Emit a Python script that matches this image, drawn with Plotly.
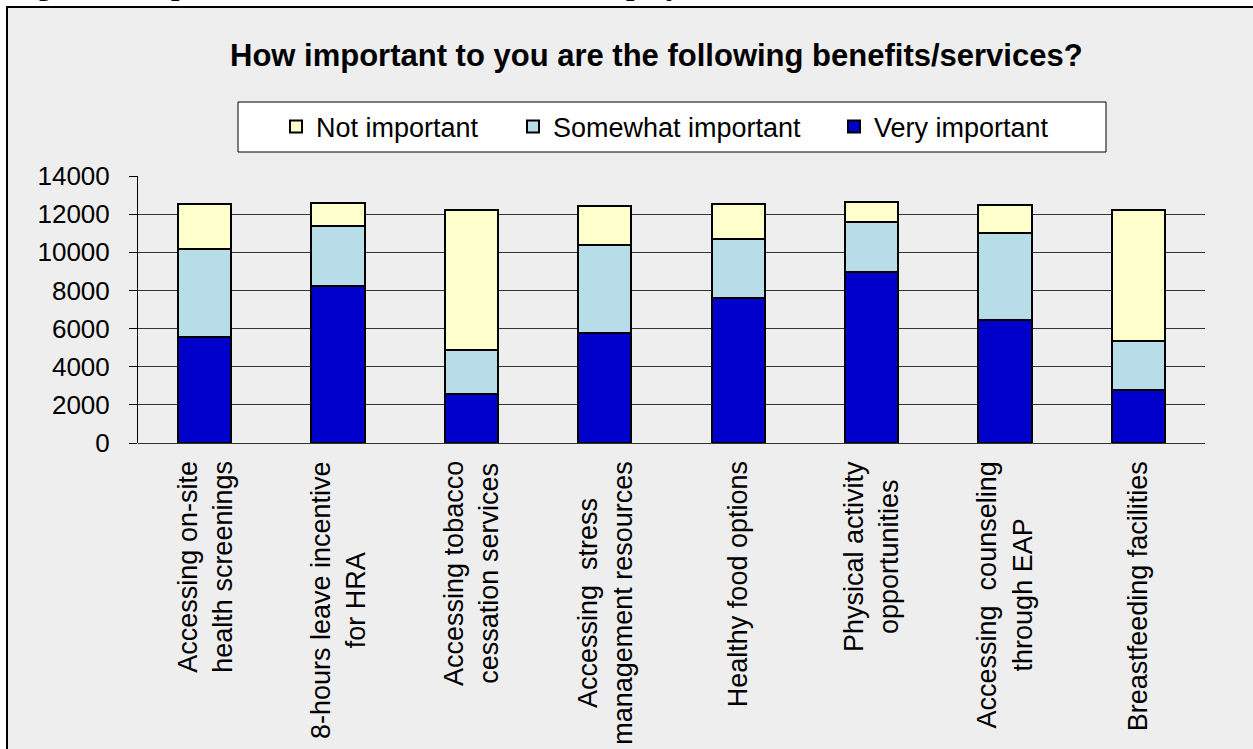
import plotly.graph_objects as go

categories = [
    "Accessing on-site<br>health screenings",
    "8-hours leave incentive<br>for HRA",
    "Accessing tobacco<br>cessation services",
    "Accessing  stress<br>management resources",
    "Healthy food options",
    "Physical activity<br>opportunities",
    "Accessing  counseling<br>through EAP",
    "Breastfeeding facilities",
]
very_important = [5550, 8250, 2550, 5750, 7600, 8950, 6450, 2800]
somewhat_important = [4600, 3150, 2350, 4650, 3100, 2650, 4550, 2550]
not_important = [2400, 1200, 7300, 2050, 1850, 1050, 1500, 6850]
y_ticks = [0, 2000, 4000, 6000, 8000, 10000, 12000, 14000]

W, H = 1253, 749
L, R, T, B = 138, 1205, 176, 443
pw, ph = R - L, B - T
def px(x):
    return (x - L) / pw
def py(y):
    return (B - y) / ph

FONT = "Liberation Sans, Arial, sans-serif"
fig = go.Figure()
series = [
    ("Very important", very_important, "#0000CC", "legend3"),
    ("Somewhat important", somewhat_important, "#B7DEE8", "legend2"),
    ("Not important", not_important, "#FFFFCC", "legend"),
]
for name, vals, col, lg in series:
    fig.add_trace(go.Bar(
        x=categories, y=vals, name=name, legend=lg,
        marker=dict(color=col, line=dict(color="black", width=2)),
    ))

shapes = [
    dict(type="rect", xref="paper", yref="paper", layer="below",
         x0=px(7), x1=px(1270), y0=py(770), y1=py(7),
         fillcolor="#EEEEEE", line=dict(color="black", width=2)),
    dict(type="rect", xref="paper", yref="paper", layer="below",
         x0=px(238), x1=px(1106), y0=py(152), y1=py(102),
         fillcolor="white", line=dict(color="black", width=1)),
]

annotations = [
    dict(text="<b>Figure 4: Importance of Benefits/Services to Employees</b>",
         xref="paper", yref="paper", x=px(8), y=py(3), xanchor="left", yanchor="bottom",
         showarrow=False, font=dict(family="Liberation Serif, Times New Roman, serif", size=30, color="black")),
    dict(text="<b>How important to you are the following benefits/services?</b>",
         xref="paper", yref="paper", x=px(656), y=py(55), xanchor="center", yanchor="middle",
         showarrow=False, font=dict(family=FONT, size=31, color="black")),
]
for c in categories:
    annotations.append(dict(
        text=c, xref="x", yref="paper", x=c, y=0, yshift=-16,
        xanchor="center", yanchor="top", textangle=-90, align="center",
        showarrow=False, font=dict(family=FONT, size=27, color="black")))

leg_common = dict(orientation="h", bgcolor="rgba(0,0,0,0)", borderwidth=0,
                  yanchor="middle", xanchor="left", font=dict(family=FONT, size=27, color="black"),
                  itemwidth=30, itemclick=False)
fig.update_layout(
    width=W, height=H,
    margin=dict(l=L, r=W - R, t=T, b=H - B),
    paper_bgcolor="white", plot_bgcolor="rgba(0,0,0,0)",
    barmode="stack", bargap=0.6,
    showlegend=True,
    legend=dict(x=px(276), y=py(127), **leg_common),
    legend2=dict(x=px(513), y=py(127), **leg_common),
    legend3=dict(x=px(834), y=py(127), **leg_common),
    shapes=shapes, annotations=annotations,
    xaxis=dict(showticklabels=False, showline=False, showgrid=False, ticks=""),
    yaxis=dict(range=[0, 14000], tickvals=y_ticks, tickformat="d", ticks="outside", ticklen=8,
               tickcolor="black", ticklabelstandoff=14,
               showline=True, linecolor="black", linewidth=1,
               showgrid=True, gridcolor="#333333", gridwidth=1,
               zeroline=True, zerolinecolor="#333333", zerolinewidth=1,
               tickfont=dict(family=FONT, size=26, color="black")),
)
fig.write_html("out.html", config={"displayModeBar": False},
               post_script="document.body.style.margin='0';")
